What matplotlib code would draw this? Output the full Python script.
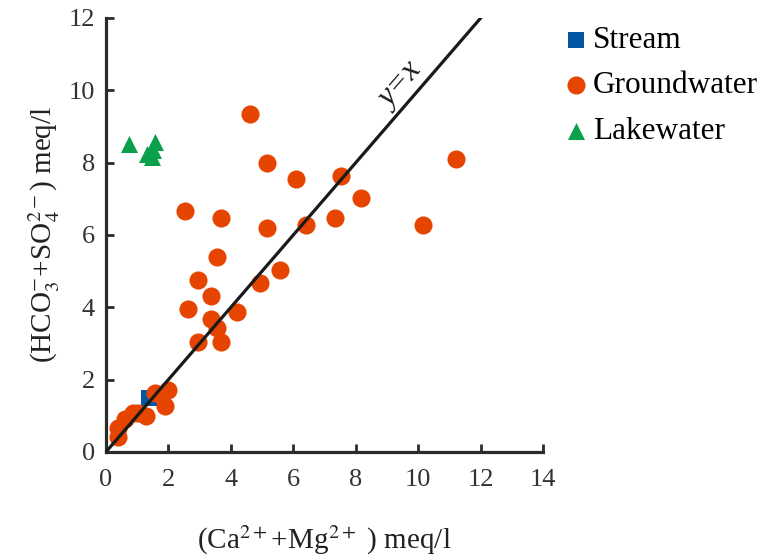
import matplotlib.pyplot as plt
import numpy as np

plt.rcParams["font.family"] = ["Liberation Serif", "DejaVu Serif"]
plt.rcParams["mathtext.fontset"] = "stix"

# ------------------------------------------------------------
# Data (meq/l)
# ------------------------------------------------------------

stream_x = [1.38]
stream_y = [1.50]

ground_x = [4.62, 5.15, 6.09, 7.54, 11.22, 8.17, 2.53, 3.68, 5.15, 6.40,
            7.34, 10.15, 3.56, 5.56, 2.94, 4.94, 3.35, 2.62, 4.19, 3.36,
            3.56, 2.94, 3.68, 2.00, 1.58, 1.89, 1.27, 0.88, 1.04, 0.61,
            0.40, 0.40]
ground_y = [9.34, 7.98, 7.54, 7.63, 8.09, 7.01, 6.65, 6.46, 6.18, 6.27,
            6.46, 6.27, 5.38, 5.03, 4.75, 4.66, 4.31, 3.95, 3.86, 3.68,
            3.42, 3.04, 3.04, 1.71, 1.62, 1.27, 0.99, 1.09, 1.09, 0.90,
            0.65, 0.42]

lake_x = [0.75, 1.57, 1.30, 1.52, 1.46]
lake_y = [8.52, 8.58, 8.24, 8.35, 8.16]

line_x = [0, 12]

x_ticks = [0, 2, 4, 6, 8, 10, 12, 14]
y_ticks = [0, 2, 4, 6, 8, 10, 12]

# ------------------------------------------------------------
# Figure
# ------------------------------------------------------------

fig = plt.figure(figsize=(7.62, 5.58), dpi=100)
ax = fig.add_axes([0.139, 0.19, 0.574, 0.778])

ax.scatter(stream_x, stream_y, marker="s", s=130, color="#0356a3",
           linewidths=0, label="Stream", zorder=2)
ax.scatter(ground_x, ground_y, marker="o", s=170, color="#e54500",
           linewidths=0, label="Groundwater", zorder=3)
ax.scatter(lake_x, lake_y, marker="^", s=150, color="#08a04b",
           linewidths=0, label="Lakewater", zorder=3)

ax.plot(line_x, line_x, color="#1a1a1a", linewidth=2.3, zorder=4)
ax.text(9.45, 10.12, "y=x", fontsize=23, style="italic", rotation=49,
        ha="center", va="center", color="#1a1a1a")

ax.set_xlim(0, 14)
ax.set_ylim(0, 12)
ax.set_xticks(x_ticks)
ax.set_yticks(y_ticks)

for side in ["top", "right"]:
    ax.spines[side].set_visible(False)
for side in ["left", "bottom"]:
    ax.spines[side].set_linewidth(2.3)
    ax.spines[side].set_color("#2b2b2b")

ax.tick_params(direction="in", length=6, width=2, colors="#2b2b2b",
               labelsize=19, labelcolor="#333333", pad=8)
ax.tick_params(axis="x", pad=12)

ax.set_xlabel(r"(Ca$^{2+}$+Mg$^{2+}$ ) meq/l", fontsize=21,
              color="#222222")
ax.set_ylabel(r"(HCO$_3^{-}$+SO$_4^{2-}$) meq/l", fontsize=21,
              color="#222222")
ax.xaxis.set_label_coords(0.5, -0.165)
ax.yaxis.set_label_coords(-0.10, 0.5)

fig.legend(loc="upper left", bbox_to_anchor=(0.7395, 0.953), frameon=False,
           fontsize=22.5, handlelength=0.8, handletextpad=0.15,
           labelspacing=0.52, borderpad=0, borderaxespad=0)

fig.savefig("out.png", dpi=100)
